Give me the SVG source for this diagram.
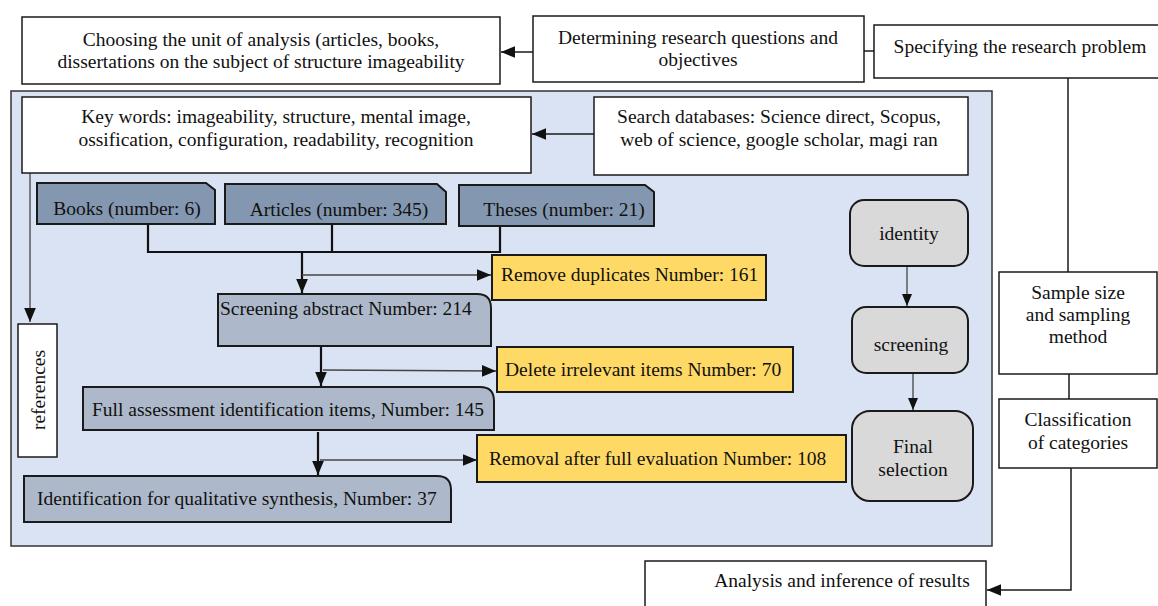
<svg xmlns="http://www.w3.org/2000/svg" width="1158" height="606" viewBox="0 0 1158 606">
<defs>
<style>
text{font-family:"Liberation Serif","Times New Roman",serif;font-size:19.5px;fill:#111}
.c{text-anchor:middle}
.wb{fill:#fff;stroke:#1a1a1a;stroke-width:1.5}
.src{fill:#8497B0;stroke:#1a1a1a;stroke-width:2}
.stp{fill:#ADB9CA;stroke:#1a1a1a;stroke-width:2}
.yel{fill:#FFD966;stroke:#1a1a1a;stroke-width:2}
.gry{fill:#D9D9D9;stroke:#1a1a1a;stroke-width:2}
.ln{fill:none;stroke:#1a1a1a;stroke-width:1.5}
.thk{fill:none;stroke:#111;stroke-width:2.2}
.thn{fill:none;stroke:#444;stroke-width:1.3}
</style>
<marker id="ah" viewBox="0 0 12 10" refX="12" refY="5" markerWidth="14" markerHeight="12" orient="auto" markerUnits="userSpaceOnUse"><path d="M0,0 L12,5 L0,10 z" fill="#111"/></marker>
<marker id="as" viewBox="0 0 12 10" refX="12" refY="5" markerWidth="12" markerHeight="10" orient="auto" markerUnits="userSpaceOnUse"><path d="M0,0 L12,5 L0,10 z" fill="#111"/></marker>
</defs>
<rect width="1158" height="606" fill="#fff"/>

<g id="panel"><rect x="11" y="91" width="981" height="455" fill="#DAE3F3" stroke="#333" stroke-width="1.5"/></g>

<g id="connectors">
<line class="ln" x1="533" y1="52" x2="501" y2="52" marker-end="url(#ah)"/>
<line class="ln" x1="864" y1="51" x2="874" y2="51"/>
<polyline class="ln" points="1068,78 1068,272"/>
<line class="ln" x1="1069" y1="374" x2="1069" y2="399"/>
<polyline class="ln" points="1071,468 1071,590 987,590" marker-end="url(#ah)"/>
<line class="ln" x1="594" y1="134" x2="532" y2="134" marker-end="url(#ah)"/>
<line class="thn" x1="30" y1="173" x2="30" y2="322" marker-end="url(#ah)"/>
<polyline class="thk" points="148,224 148,252 500,252 500,227"/>
<line class="thk" x1="332" y1="224" x2="332" y2="252"/>
<line class="thk" x1="302" y1="252" x2="302" y2="293" marker-end="url(#ah)"/>
<line class="thn" x1="302" y1="275" x2="491" y2="275" marker-end="url(#ah)"/>
<line class="thk" x1="321" y1="347" x2="321" y2="386" marker-end="url(#ah)"/>
<line class="thn" x1="323" y1="370" x2="496" y2="371" marker-end="url(#ah)"/>
<line class="thk" x1="318" y1="432" x2="318" y2="475" marker-end="url(#ah)"/>
<line class="thn" x1="320" y1="460" x2="477" y2="460" marker-end="url(#ah)"/>
<line class="thn" x1="907" y1="266" x2="907" y2="306" marker-end="url(#as)"/>
<line class="thn" x1="913" y1="373" x2="913" y2="410" marker-end="url(#as)"/>
</g>

<g id="choosing"><rect class="wb" x="22" y="17" width="478" height="67"/>
<text class="c" x="261" y="46">Choosing the unit of analysis (articles, books,</text>
<text class="c" x="261" y="68">dissertations on the subject of structure imageability</text></g>

<g id="determining"><rect class="wb" x="533" y="16" width="331" height="66"/>
<text class="c" x="698" y="44">Determining research questions and</text>
<text class="c" x="698" y="66">objectives</text></g>

<g id="specifying"><rect class="wb" x="874" y="25" width="288" height="53"/>
<text class="c" x="1020" y="53">Specifying the research problem</text></g>

<g id="sample"><rect class="wb" x="999" y="272" width="158" height="102"/>
<text class="c" x="1078" y="299">Sample size</text>
<text class="c" x="1078" y="321">and sampling</text>
<text class="c" x="1078" y="343">method</text></g>

<g id="classification"><rect class="wb" x="999" y="399" width="158" height="69"/>
<text class="c" x="1078" y="426">Classification</text>
<text class="c" x="1078" y="449">of categories</text></g>

<g id="analysis"><rect class="wb" x="645" y="561" width="341" height="50"/>
<text class="c" x="842" y="587">Analysis and inference of results</text></g>

<g id="keywords"><rect class="wb" x="22" y="97" width="509" height="76"/>
<text class="c" x="276" y="123">Key words: imageability, structure, mental image,</text>
<text class="c" x="276" y="146">ossification, configuration, readability, recognition</text></g>

<g id="search"><rect class="wb" x="594" y="97" width="374" height="78"/>
<text class="c" x="779" y="123">Search databases: Science direct, Scopus,</text>
<text class="c" x="779" y="146">web of science, google scholar, magi ran</text></g>

<g id="references"><rect class="wb" x="18" y="324" width="39" height="133"/>
<text class="c" transform="translate(45,390) rotate(-90)">references</text></g>

<g id="books"><polygon class="src" points="37,183 206,183 215,190 215,224 37,224"/>
<text class="c" x="127" y="215">Books (number: 6)</text></g>

<g id="articles"><polygon class="src" points="225,184 437,184 446,192 446,224 225,224"/>
<text class="c" x="339" y="216">Articles (number: 345)</text></g>

<g id="theses"><polygon class="src" points="459,185 645,185 654,192 654,226 459,226"/>
<text class="c" x="564" y="216">Theses (number: 21)</text></g>

<g id="dup"><rect class="yel" x="492" y="255" width="274" height="45"/>
<text x="501" y="281">Remove duplicates Number: 161</text></g>

<g id="screeningabs"><path class="stp" d="M218,294 H477 Q491,294 491,308 V346 H218 Z"/>
<text x="220" y="315">Screening abstract Number: 214</text></g>

<g id="irrelevant"><rect class="yel" x="497" y="347" width="296" height="45"/>
<text x="505" y="376">Delete irrelevant items Number: 70</text></g>

<g id="fullassess"><path class="stp" d="M83,387 H480 Q494,387 494,401 V430 H83 Z"/>
<text x="92" y="416">Full assessment identification items, Number: 145</text></g>

<g id="removal"><rect class="yel" x="477" y="435" width="369" height="47"/>
<text x="489" y="465">Removal after full evaluation Number: 108</text></g>

<g id="identification"><path class="stp" d="M24,476 H437 Q451,476 451,490 V522 H24 Z"/>
<text x="37" y="505">Identification for qualitative synthesis, Number: 37</text></g>

<g id="identity"><rect class="gry" x="850" y="200" width="118" height="66" rx="14"/>
<text class="c" x="909" y="240">identity</text></g>

<g id="screening"><rect class="gry" x="852" y="307" width="116" height="66" rx="14"/>
<text class="c" x="911" y="351">screening</text></g>

<g id="final"><rect class="gry" x="852" y="411" width="121" height="90" rx="18"/>
<text class="c" x="913" y="453">Final</text>
<text class="c" x="913" y="476">selection</text></g>
</svg>
